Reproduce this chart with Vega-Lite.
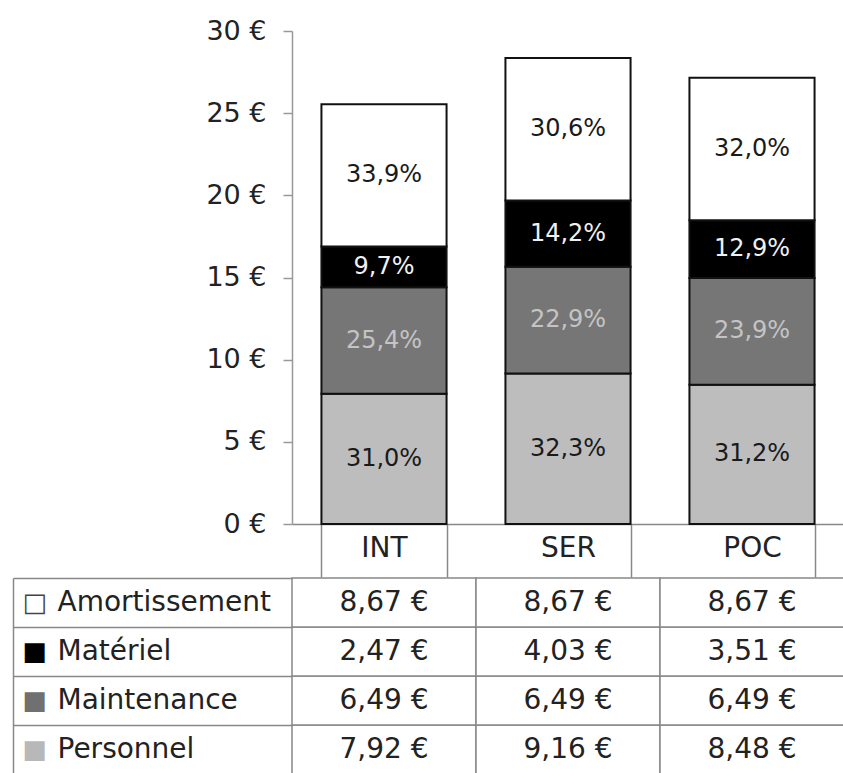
{
  "$schema": "https://vega.github.io/schema/vega-lite/v6.json",
  "padding": {"left": 12, "top": 17, "right": 0, "bottom": 0},
  "background": "white",
  "config": {
    "view": {"stroke": null},
    "font": "DejaVu Sans",
    "locale": {"number": {"decimal": ",", "thousands": " ", "grouping": [3], "currency": ["", " €"]}}
  },
  "datasets": {
    "costs": [
      {"site": "INT", "cat": "Personnel", "ord": 1, "value": 7.92, "pct": 0.310},
      {"site": "INT", "cat": "Maintenance", "ord": 2, "value": 6.49, "pct": 0.254},
      {"site": "INT", "cat": "Matériel", "ord": 3, "value": 2.47, "pct": 0.097},
      {"site": "INT", "cat": "Amortissement", "ord": 4, "value": 8.67, "pct": 0.339},
      {"site": "SER", "cat": "Personnel", "ord": 1, "value": 9.16, "pct": 0.323},
      {"site": "SER", "cat": "Maintenance", "ord": 2, "value": 6.49, "pct": 0.229},
      {"site": "SER", "cat": "Matériel", "ord": 3, "value": 4.03, "pct": 0.142},
      {"site": "SER", "cat": "Amortissement", "ord": 4, "value": 8.67, "pct": 0.306},
      {"site": "POC", "cat": "Personnel", "ord": 1, "value": 8.48, "pct": 0.312},
      {"site": "POC", "cat": "Maintenance", "ord": 2, "value": 6.49, "pct": 0.239},
      {"site": "POC", "cat": "Matériel", "ord": 3, "value": 3.51, "pct": 0.129},
      {"site": "POC", "cat": "Amortissement", "ord": 4, "value": 8.67, "pct": 0.320}
    ]
  },
  "spacing": -14,
  "vconcat": [
    {
      "width": 552,
      "height": 493,
      "data": {"name": "costs"},
      "encoding": {
        "x": {
          "field": "site", "type": "nominal", "sort": ["INT", "SER", "POC"], "title": null,
          "scale": {"paddingInner": 0.32, "paddingOuter": 0.16},
          "axis": {
            "orient": "bottom", "labelAngle": 0, "tickBand": "extent", "tickSize": 53,
            "tickColor": "#888", "tickWidth": 1.5, "domainColor": "#888", "domainWidth": 1.5,
            "labelFontSize": 28, "labelColor": "#222", "labelPadding": -29, "labelBaseline": "middle"
          }
        }
      },
      "layer": [
        {
          "mark": {"type": "bar", "stroke": "#111", "strokeWidth": 2},
          "encoding": {
            "y": {
              "field": "value", "type": "quantitative", "stack": "zero", "title": null,
              "scale": {"domain": [0, 30], "nice": false},
              "axis": {
                "values": [0, 5, 10, 15, 20, 25, 30], "format": "$.0f", "labelFontSize": 27,
                "labelColor": "#222", "domainColor": "#999", "domainWidth": 1.5, "tickColor": "#999",
                "tickSize": 9, "tickWidth": 1.5, "labelPadding": 17, "grid": false
              }
            },
            "fill": {
              "field": "cat", "type": "nominal", "legend": null,
              "scale": {"domain": ["Personnel", "Maintenance", "Matériel", "Amortissement"], "range": ["#bdbdbd", "#767676", "#000000", "#ffffff"]}
            },
            "order": {"field": "ord", "type": "quantitative"}
          }
        },
        {
          "transform": [
            {"stack": "value", "groupby": ["site"], "sort": [{"field": "ord", "order": "ascending"}], "as": ["y0", "y1"]},
            {"fold": ["y0", "y1"], "as": ["edgeName", "edge"]},
            {"aggregate": [{"op": "mean", "field": "edge", "as": "mid"}], "groupby": ["site", "cat", "pct"]}
          ],
          "mark": {"type": "text", "fontSize": 24},
          "encoding": {
            "y": {"field": "mid", "type": "quantitative", "title": null},
            "text": {"field": "pct", "type": "quantitative", "format": ".1%"},
            "color": {
              "field": "cat", "type": "nominal", "legend": null,
              "scale": {"domain": ["Personnel", "Maintenance", "Matériel", "Amortissement"], "range": ["#1a1a1a", "#c4c4c4", "#f0f0f0", "#1a1a1a"]}
            }
          }
        }
      ]
    },
    {
      "width": 552,
      "height": 196,
      "data": {"name": "costs"},
      "encoding": {
        "x": {"field": "site", "type": "nominal", "sort": ["INT", "SER", "POC"], "axis": null}
      },
      "layer": [
        {
          "mark": {"type": "rect", "fill": "white", "stroke": "#888", "strokeWidth": 1.5},
          "encoding": {
            "y": {
              "field": "cat", "type": "nominal", "sort": ["Amortissement", "Matériel", "Maintenance", "Personnel"], "title": null,
              "axis": {
                "tickBand": "extent", "tickSize": 279, "tickColor": "#888", "tickWidth": 1.5, "domain": false,
                "labelAlign": "left", "labelPadding": -44, "labelFontSize": 28, "labelColor": "#222",
                "labelLimit": 300, "labelBaseline": "middle"
              }
            }
          }
        },
        {
          "mark": {"type": "text", "fontSize": 28, "color": "#222"},
          "encoding": {
            "y": {
              "field": "cat", "type": "nominal", "sort": ["Amortissement", "Matériel", "Maintenance", "Personnel"], "title": null,
              "axis": {
                "orient": "left", "offset": 279, "ticks": false, "domainColor": "#888", "domainWidth": 1.5,
                "labelExpr": "datum.value === 'Amortissement' ? '□' : '■'",
                "labelColor": {
                  "condition": [
                    {"test": "datum.value === 'Matériel'", "value": "#000000"},
                    {"test": "datum.value === 'Maintenance'", "value": "#707070"},
                    {"test": "datum.value === 'Personnel'", "value": "#b8b8b8"}
                  ],
                  "value": "#444444"
                },
                "labelAlign": "left", "labelPadding": -9, "labelFontSize": 26, "labelBaseline": "middle"
              }
            },
            "text": {"field": "value", "type": "quantitative", "format": "$.2f"}
          }
        }
      ],
      "resolve": {"axis": {"y": "independent"}}
    }
  ]
}
